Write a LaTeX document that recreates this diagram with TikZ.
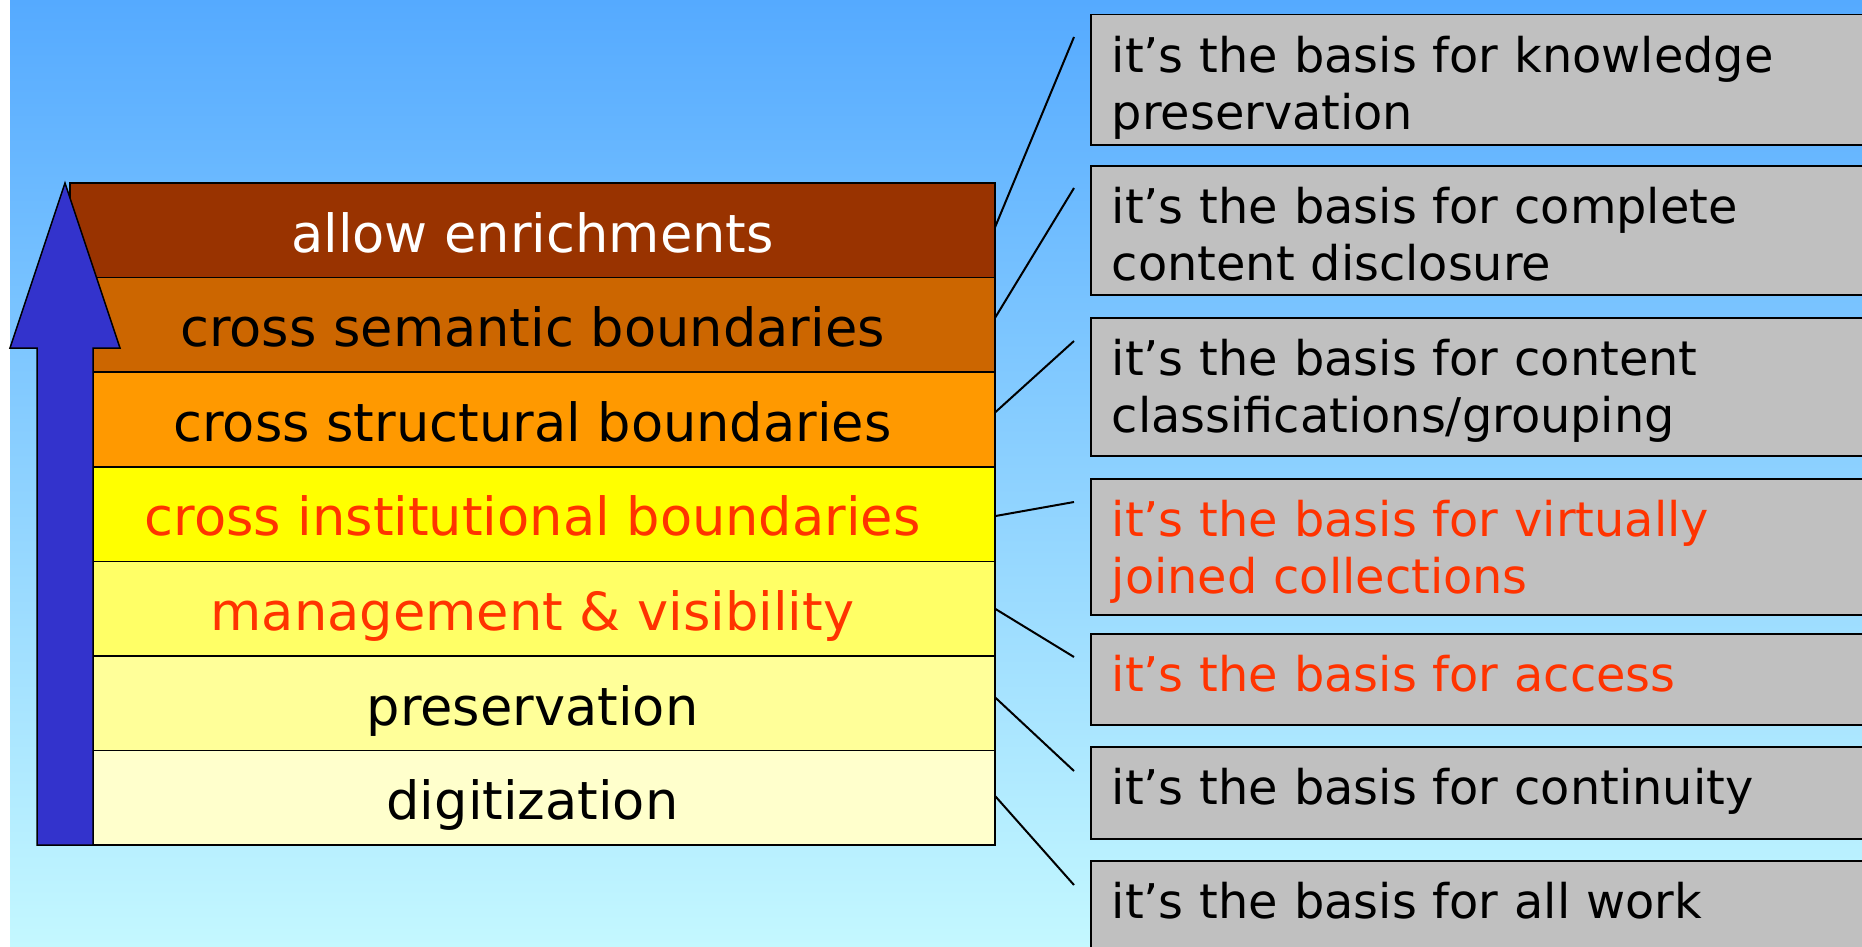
\documentclass[tikz,border=0pt]{standalone}
\usepackage{fontspec}
\setmainfont{DejaVu Sans}
\usetikzlibrary{positioning}
\definecolor{skytop}{HTML}{55AAFF}
\definecolor{skybottom}{HTML}{C4F8FF}
\definecolor{layerA}{HTML}{993300}
\definecolor{layerB}{HTML}{CC6600}
\definecolor{layerC}{HTML}{FF9900}
\definecolor{layerD}{HTML}{FFFF00}
\definecolor{layerE}{HTML}{FFFF66}
\definecolor{layerF}{HTML}{FFFF99}
\definecolor{layerG}{HTML}{FFFFCC}
\definecolor{arrowblue}{HTML}{3333CC}
\definecolor{boxgray}{HTML}{C0C0C0}
\definecolor{basisred}{HTML}{FF3300}

\begin{document}
\begin{tikzpicture}[x = 1pt, y = -1pt]
\tikzstyle{mylayer} = [draw, line width = 1.5pt, outer sep = 0 pt, minimum width = 925pt, minimum height = 94.6pt, text height = 43.4pt, text depth = 0pt, font = \fontsize{52.6}{60}\selectfont]
\tikzstyle{mybox} = [draw, line width = 1.5pt, fill = boxgray, anchor = north west, align = left, text width = 800pt, inner xsep = 21pt, inner ysep = 0pt, text height = 58pt, font = \fontsize{47.8}{57}\selectfont]
\tikzset{mylink/.style = {line width = 2pt}}

\clip (0,0) rectangle (1862,947);
\fill [white] (0,0) rectangle (1862,947);
\shade [top color = skytop, bottom color = skybottom] (10,0) rectangle (1862,947);

% the stack of layers
\node [mylayer, fill = layerA, text = white, anchor = north west] (enrich) at (70,183) {allow enrichments};
\node [mylayer, fill = layerB, below = 0pt of enrich] (semantic) {cross semantic boundaries};
\node [mylayer, fill = layerC, below = 0pt of semantic] (structural) {cross structural boundaries};
\node [mylayer, fill = layerD, text = basisred, below = 0pt of structural] (institutional) {cross institutional boundaries};
\node [mylayer, fill = layerE, text = basisred, below = 0pt of institutional] (management) {management \& visibility};
\node [mylayer, fill = layerF, below = 0pt of management] (preservation) {preservation};
\node [mylayer, fill = layerG, below = 0pt of preservation] (digitization) {digitization};

% the big arrow
\filldraw [fill = arrowblue, line width = 1.5pt, line join = miter] (37,845) -- (37,348) -- (10,348) -- (65,183) -- (120,348) -- (93,348) -- (93,845) -- cycle;

% the grey boxes
\node [mybox, text depth = 72pt] (knowledge) at (1090,14) {it’s the basis for knowledge\\preservation};
\node [mybox, text depth = 71pt] (disclosure) at (1090,165) {it’s the basis for complete\\content disclosure};
\node [mybox, text depth = 80pt] (grouping) at (1090,317) {it’s the basis for content\\classifications/grouping};
\node [mybox, text depth = 78pt, text = basisred] (joined) at (1090,478) {it’s the basis for virtually\\joined collections};
\node [mybox, text depth = 33pt, text = basisred] (access) at (1090,633) {it’s the basis for access};
\node [mybox, text depth = 34pt] (continuity) at (1090,746) {it’s the basis for continuity};
\node [mybox, text depth = 34pt] (allwork) at (1090,860) {it’s the basis for all work};

\coordinate (toknowledge) at ([shift = {(-16,23)}] knowledge.north west);
\coordinate (todisclosure) at ([shift = {(-16,23)}] disclosure.north west);
\coordinate (togrouping) at ([shift = {(-16,24)}] grouping.north west);
\coordinate (tojoined) at ([shift = {(-16,24)}] joined.north west);
\coordinate (toaccess) at ([shift = {(-16,24)}] access.north west);
\coordinate (tocontinuity) at ([shift = {(-16,25)}] continuity.north west);
\coordinate (toallwork) at ([shift = {(-16,25)}] allwork.north west);

\draw [mylink] ([yshift = 3] enrich.east) -- (toknowledge);
\draw [mylink] ([yshift = 7] semantic.east) -- (todisclosure);
\draw [mylink] ([yshift = 7] structural.east) -- (togrouping);
\draw [mylink] ([yshift = -2] institutional.east) -- (tojoined);
\draw [mylink] (management.east) -- (toaccess);
\draw [mylink] ([yshift = 6] preservation.east) -- (tocontinuity);
\draw [mylink] ([yshift = 2] digitization.east) -- (toallwork);

\end{tikzpicture}
\end{document}
